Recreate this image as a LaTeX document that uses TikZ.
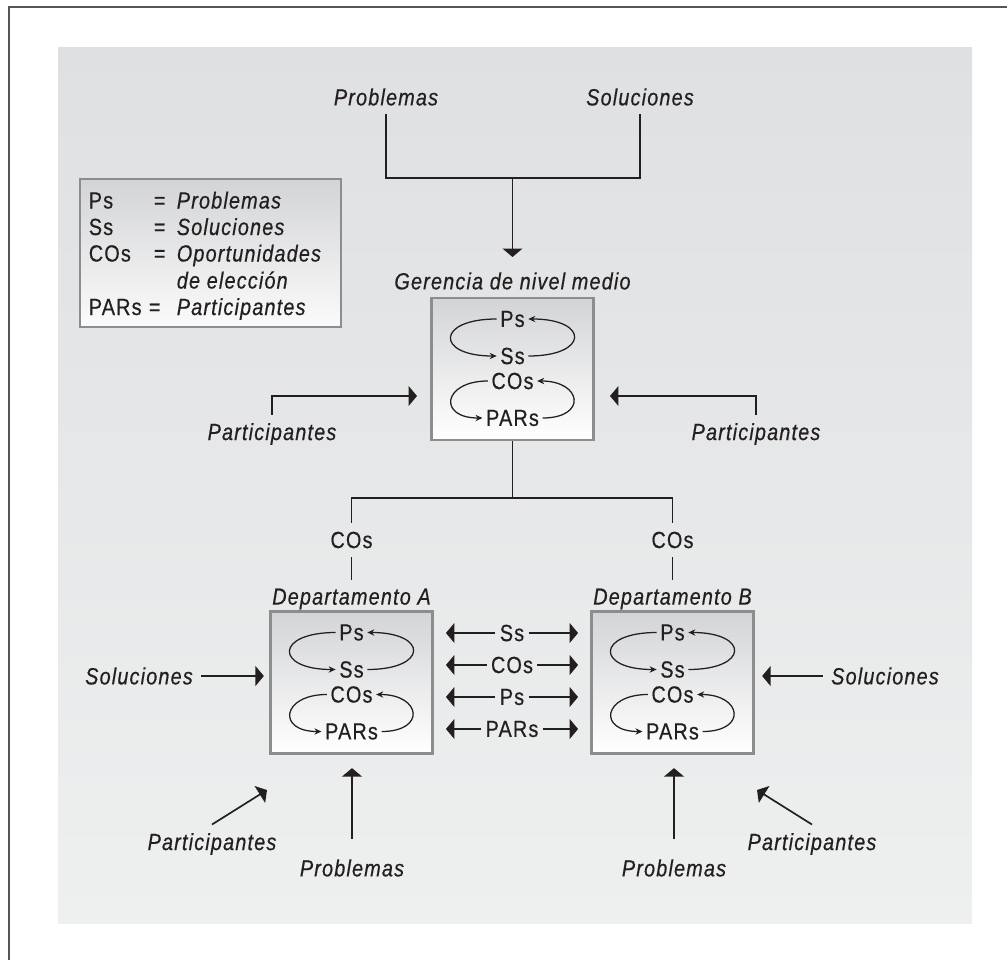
\documentclass[tikz,border=0pt]{standalone}
\usepackage{fontspec}
\setmainfont{Liberation Sans}[FakeStretch=0.85,LetterSpace=5,FakeBold=0.5]
\usetikzlibrary{arrows.meta}

\definecolor{ink}{HTML}{231F20}
\definecolor{rim}{HTML}{8C8D8F}
\definecolor{shadetop}{HTML}{D3D4D6}
\definecolor{bgtop}{HTML}{DFE0E2}
\definecolor{bgbottom}{HTML}{EEEFEF}
\definecolor{framegray}{HTML}{555555}

\begin{document}
\fontsize{16.6}{20}\selectfont
\begin{tikzpicture}[x=0.025cm,y=-0.025cm,color=ink,line width=1.2pt,
  unit box/.style={draw=rim,line width=2pt,top color=shadetop,bottom color=white,minimum width=4.05cm,minimum height=3.55cm},
  key box/.style={draw=rim,line width=2pt,top color=shadetop,bottom color=white!90!shadetop},
  flow/.style={-{Triangle[length=6pt,width=14pt]}},
  cycle/.style={line width=0.9pt,-{Stealth[length=5pt,width=4.5pt]}},
  tag/.style={font=\itshape},
  inner/.style={inner sep=2pt}]
\useasboundingbox (0,0) rectangle (1007,960);

% page frame and grey panel
\shade[top color=bgtop,bottom color=bgbottom] (58,47) rectangle (972,923);
\draw[framegray,line width=1.5pt] (9,960) -- (9,7) -- (1007,7);

% legend
\node[key box,minimum width=6.525cm,minimum height=3.7cm] (key) at (210.5,253) {};
\foreach \ab/\eqx/\txt/\yy [count=\i] in {Ps/153/Problemas/208.5,Ss/153/Soluciones/235,COs/153/Oportunidades/261.5,PARs/148/Participantes/315}{
  \node[anchor=base west,inner sep=0pt] (k\i a) at (88,\yy) {\ab};
  \node[anchor=base west,inner sep=0pt] (k\i b) at (\eqx,\yy) {=};
  \node[tag,anchor=base west,inner sep=0pt] (k\i c) at (176,\yy) {\txt};
}
\node[tag,anchor=base west,inner sep=0pt] (k3d) at (176,288.5) {de elección};

% the three units with their inner cycles
\foreach \u/\cx/\cy in {g/512.5/369,a/351.5/682.5,b/672.5/682.5}{
  \node[unit box] (\u) at (\cx,\cy) {};
  \node[inner] (\u-ps) at (\cx,\cy-50) {Ps};
  \node[inner] (\u-ss) at (\cx,\cy-13) {Ss};
  \node[inner] (\u-cos) at (\cx,\cy+12) {COs};
  \node[inner] (\u-pars) at (\cx,\cy+49) {PARs};
  \draw[cycle] (\u-ps.west) .. controls +(-61,0) and +(-61,0) .. (\u-ss.west);
  \draw[cycle] (\u-ss.east) .. controls +(61,0) and +(61,0) .. (\u-ps.east);
  \draw[cycle] (\u-cos.west) .. controls +(-45,0) and +(-45,0) .. (\u-pars.west);
  \draw[cycle] (\u-pars.east) .. controls +(45,0) and +(45,0) .. (\u-cos.east);
}

% top: middle management
\node[tag] (top-prob) at (386,97) {Problemas};
\node[tag] (top-sol) at (640,97) {Soluciones};
\node[tag] (g-lbl) at (512.5,281) {Gerencia de nivel medio};
\coordinate (merge) at (512.5,178);
\coordinate (g-in) at (512.5,257);
\draw (top-prob.south) |- (merge) -| (top-sol.south);
\draw[flow] (merge) -- (g-in);

\node[tag] (g-par-l) at (272,434) {Participantes};
\node[tag] (g-par-r) at (756,434) {Participantes};
\coordinate (g-in-l) at (417,396);
\coordinate (g-in-r) at (610,396);
\draw[flow] (g-par-l.north) |- (g-in-l);
\draw[flow] (g-par-r.north) |- (g-in-r);

% fork down to the departments
\coordinate (fork) at (512.5,498);
\node (a-cos) at (351.5,540) {COs};
\node (b-cos) at (672.5,540) {COs};
\node[tag] (a-lbl) at (351.5,599) {Departamento A};
\node[tag] (b-lbl) at (672.5,599) {Departamento B};
\draw (g) -- (fork);
\draw (a-cos) |- (fork) -| (b-cos);
\draw (a-cos) -- (a-lbl);
\draw (b-cos) -- (b-lbl);

% exchange between departments
\foreach \t/\yy [count=\i] in {Ss/633,COs/665,Ps/697,PARs/729}{
  \node[inner sep=2.5pt] (x\i) at (512,\yy) {\t};
  \draw[flow,shorten >=0.3cm] (x\i) -- (a.east |- x\i);
  \draw[flow,shorten >=0.3cm] (x\i) -- (b.west |- x\i);
}

% inputs to department A
\node[tag] (a-sol) at (139,676) {Soluciones};
\node[tag] (a-par) at (212,844) {Participantes};
\node[tag] (a-prob) at (352,868) {Problemas};
\coordinate (a-par-in) at (267,790);
\draw[flow,shorten >=0.13cm] (a-sol) -- (a.west |- a-sol);
\draw[flow] (a-par.north) -- (a-par-in);
\draw[flow,shorten <=0.3cm,shorten >=0.33cm] (a-prob) -- (a-prob |- a.south);

% inputs to department B
\node[tag] (b-sol) at (885,676) {Soluciones};
\node[tag] (b-par) at (812,844) {Participantes};
\node[tag] (b-prob) at (674,868) {Problemas};
\coordinate (b-par-in) at (757,790);
\draw[flow,shorten >=0.18cm] (b-sol) -- (b.east |- b-sol);
\draw[flow] (b-par.north) -- (b-par-in);
\draw[flow,shorten <=0.3cm,shorten >=0.33cm] (b-prob) -- (b-prob |- b.south);
\end{tikzpicture}
\end{document}
